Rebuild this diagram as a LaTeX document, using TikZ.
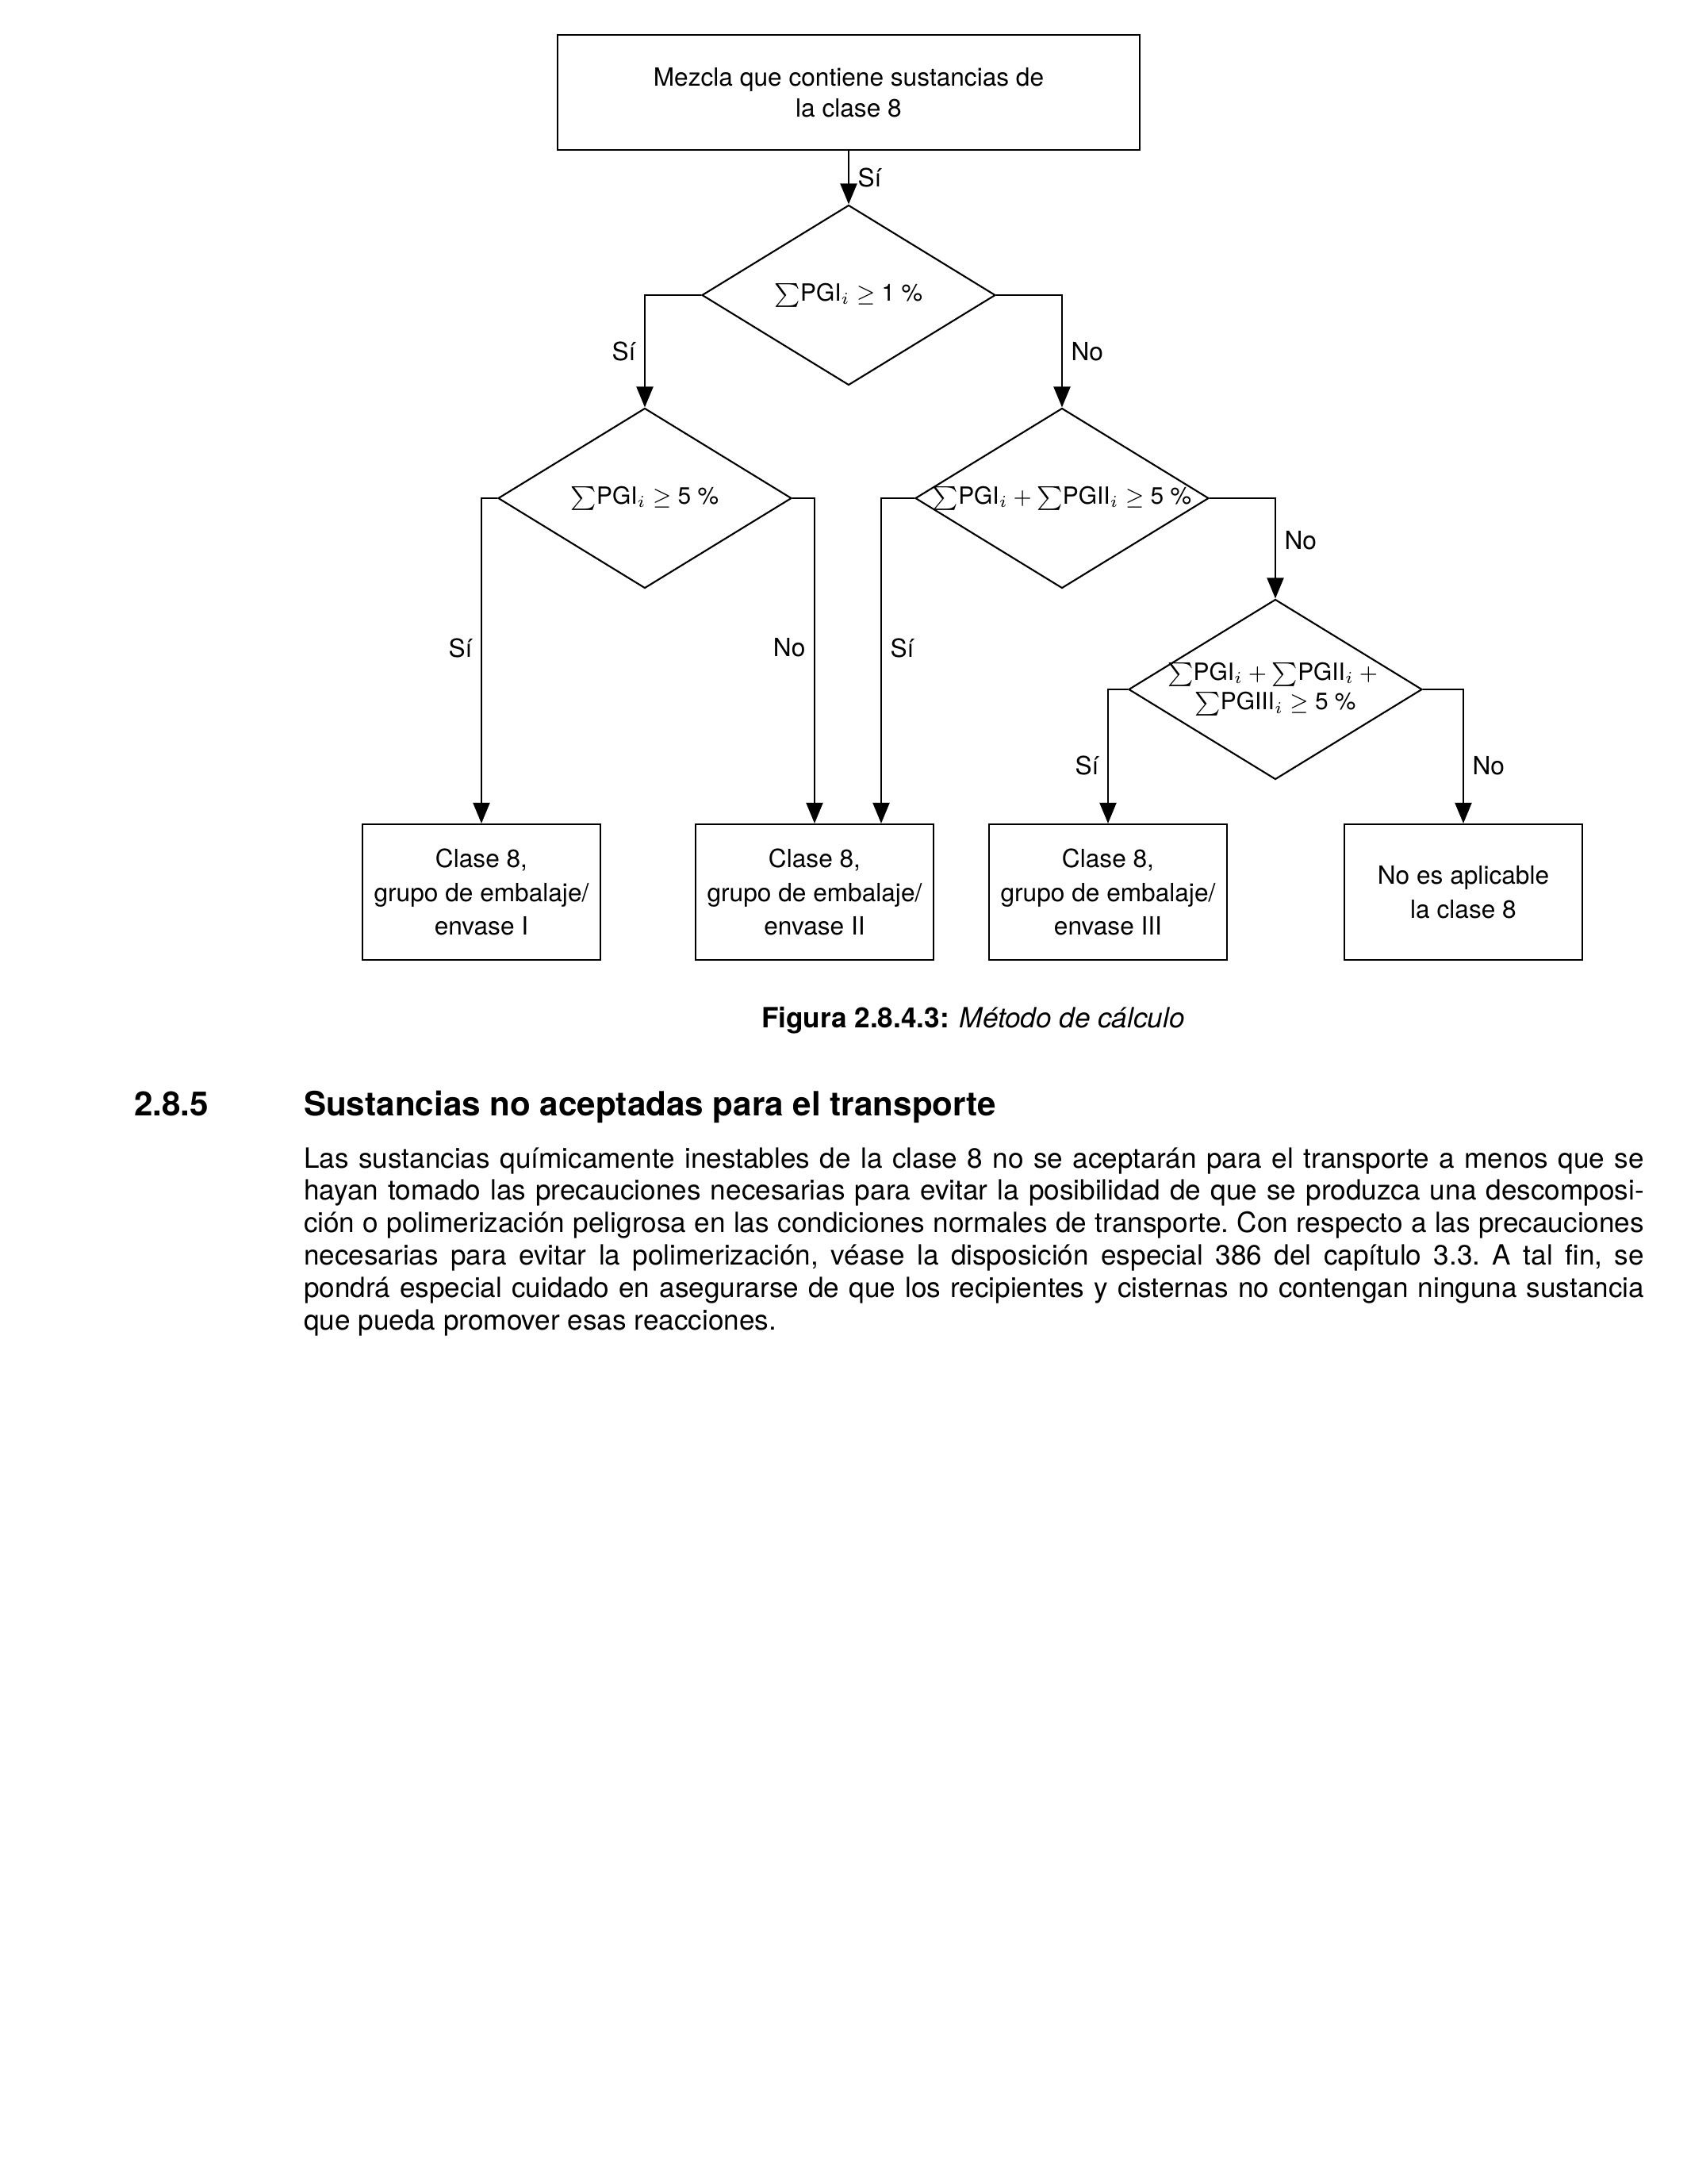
\documentclass[tikz,border=0pt]{standalone}
\usepackage{fontspec}
\setmainfont{TeX Gyre Heros}
\usepackage{amsmath}
\usepackage{amssymb}
\usetikzlibrary{shapes.geometric, arrows.meta}

\begin{document}
\begin{tikzpicture}[x=1cm, y=-1cm, ->, >={Triangle[length=2.6mm,width=2.1mm]}, line width=0.6pt,
    font=\fontsize{9}{11}\selectfont,
    box/.style={draw, rectangle, minimum width=3cm, minimum height=1.71cm, align=center, font=\fontsize{9}{12.2}\selectfont},
    decision/.style={draw, diamond, minimum width=3.7cm, minimum height=2.27cm, inner sep=0pt},
    every label/.style={font=\fontsize{8.5}{10.6}\selectfont, align=center, inner sep=0pt},
    yn/.style={inner sep=3pt}]
  \useasboundingbox (0,0) rectangle (21.26,27.53);

  \node[box, minimum width=7.34cm, minimum height=1.45cm, font=\fontsize{9}{11}\selectfont] (mix) at (10.70,1.165) {Mezcla que contiene sustancias de\\la clase 8};

  \node[decision, label=center:{$\sum$PGI$_i\geq$ 1 \%}] (d1) at (10.70,3.72) {};
  \node[decision, label=center:{$\sum$PGI$_i\geq$ 5 \%}] (d2) at (8.13,6.28) {};
  \node[decision, label=center:{$\sum$PGI$_i+\sum$PGII$_i\geq$ 5 \%}] (d3) at (13.39,6.28) {};
  \node[decision, label=center:{$\sum$PGI$_i+\sum$PGII$_i+{}$\\$\sum$PGIII$_i\geq$ 5 \%}] (d4) at (16.08,8.69) {};

  \node[box] (pg1) at (6.07,11.245) {Clase 8,\\grupo de embalaje/\\envase I};
  \node[box] (pg2) at (10.27,11.245) {Clase 8,\\grupo de embalaje/\\envase II};
  \node[box] (pg3) at (13.97,11.245) {Clase 8,\\grupo de embalaje/\\envase III};
  \node[box] (na) at (18.45,11.245) {No es aplicable\\la clase 8};

  \draw (mix.south) -- node[yn, right] (y0) {Sí} (d1.north);
  \draw (d1.west) -| node[yn, left, pos=0.75] (y1) {Sí} (d2.north);
  \draw (d1.east) -| node[yn, right, pos=0.75] (n1) {No} (d3.north);
  \draw (d2.west) -| node[yn, left, pos=0.73] (y2) {Sí} (pg1.north);
  \draw (d2.east) -| node[yn, left, pos=0.73] (n2) {No} (pg2.north);
  \draw (d3.west) -| node[yn, right, pos=0.73] (y3) {Sí} ([xshift=8.4mm]pg2.north);
  \draw (d3.east) -| node[yn, right, pos=0.71] (n3) {No} (d4.north);
  \draw (d4.west) -| node[yn, left, pos=0.785] (y4) {Sí} (pg3.north);
  \draw (d4.east) -| node[yn, right, pos=0.785] (n4) {No} (na.north);

  \node[anchor=base, font=\fontsize{10}{12}\selectfont] (cap) at (12.27,12.95) {\textbf{Figura 2.8.4.3:} \textit{Método de cálculo}};

  \node[anchor=base west, inner sep=0pt, font=\fontsize{12}{14}\selectfont\bfseries] (secnum) at (1.68,14.06) {2.8.5};
  \node[anchor=base west, inner sep=0pt, font=\fontsize{12}{14}\selectfont\bfseries] (sectitle) at (3.82,14.06) {Sustancias no aceptadas para el transporte};

  \node[anchor=base west, inner sep=0pt, text width=16.9cm, align=justify, font=\fontsize{10}{11.62}\selectfont] (para) at (3.82,14.72) {\frenchspacing\hyphenpenalty=10000 \tolerance=9999
    Las sustancias químicamente inestables de la clase 8 no se aceptarán para el transporte a menos que se\linebreak
    hayan tomado las precauciones necesarias para evitar la posibilidad de que se produzca una descomposi-\linebreak
    ción o polimerización peligrosa en las condiciones normales de transporte. Con respecto a las precauciones\linebreak
    necesarias para evitar la polimerización, véase la disposición especial 386 del capítulo 3.3. A tal fin, se\linebreak
    pondrá especial cuidado en asegurarse de que los recipientes y cisternas no contengan ninguna sustancia\linebreak
    que pueda promover esas reacciones.};
\end{tikzpicture}
\end{document}
